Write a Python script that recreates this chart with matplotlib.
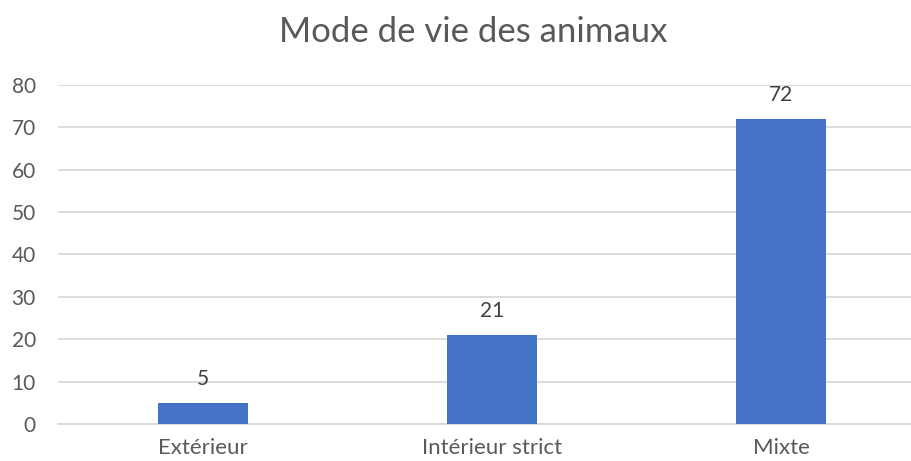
import matplotlib
matplotlib.use("Agg")
import matplotlib.pyplot as plt

categories = ["Extérieur", "Intérieur strict", "Mixte"]
values = [5, 21, 72]
yticks = [0, 10, 20, 30, 40, 50, 60, 70, 80]
title = "Mode de vie des animaux"

plt.rcParams['font.family'] = ['Lato', 'DejaVu Sans']

W, H = 912, 461
fig = plt.figure(figsize=(W / 100, H / 100), dpi=100)
ax = fig.add_axes([58 / W, 1 - 424 / H, (926 - 58) / W, (424 - 85) / H])

x = list(range(len(categories)))
ax.bar(x, values, width=0.31, color="#4472C4", zorder=3)
for xi, v in zip(x, values):
    ax.annotate(str(v), (xi, v), xytext=(0, 10), textcoords="offset points",
                ha="center", va="bottom", fontsize=15, color="#404040")

ax.set_xlim(-0.5, len(categories) - 0.5)
ax.set_ylim(0, 80)
ax.set_yticks(yticks)
ax.set_xticks(x)
ax.set_xticklabels(categories)
ax.yaxis.grid(True, color="#D9D9D9", linewidth=1.3, zorder=0)
ax.set_axisbelow(True)
for s in ["top", "right", "left"]:
    ax.spines[s].set_visible(False)
ax.spines["bottom"].set_color("#D9D9D9")
ax.spines["bottom"].set_linewidth(1.3)
ax.tick_params(axis="both", length=0, labelsize=15, labelcolor="#595959")
ax.tick_params(axis="x", labelsize=16, pad=10)
ax.tick_params(axis="y", pad=16)

fig.text(473 / W, 1 - 32 / H, title, ha="center", va="center", fontsize=25, color="#595959")

fig.savefig("out.png", dpi=100)
